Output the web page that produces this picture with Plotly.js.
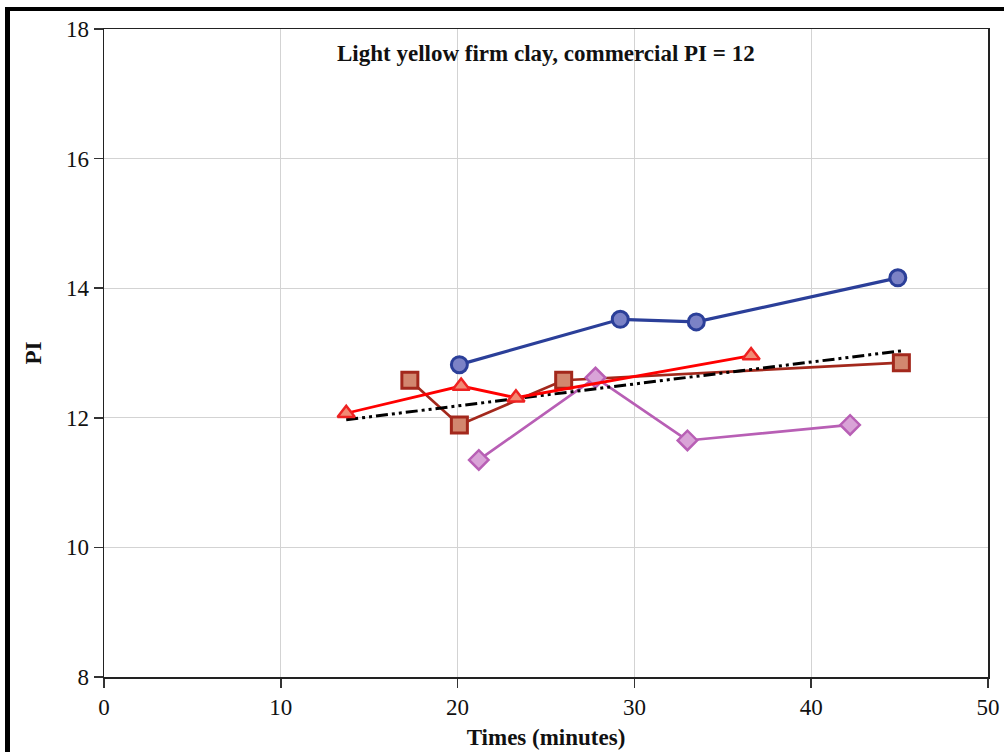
<!DOCTYPE html>
<html>
<head>
<meta charset="utf-8">
<script src="https://cdn.plot.ly/plotly-3.0.1.min.js"></script>
<style>
  html, body { margin: 0; padding: 0; background: #ffffff; }
  #wrap { position: relative; width: 1004px; height: 752px; overflow: hidden; }
  #chart { position: absolute; left: 0; top: 0; width: 1004px; height: 752px; }
  #frame { position: absolute; left: 5px; top: 7px; width: 1100px; height: 800px;
           border-left: 5px solid #000; border-top: 4px solid #000; pointer-events: none; }
</style>
</head>
<body>
<div id="wrap">
  <div id="chart"></div>
  <div id="frame"></div>
</div>
<script>
// Series
const blueX   = [20.1, 29.2, 33.5, 44.9];
const blueY   = [12.82, 13.52, 13.48, 14.16];

const redX    = [13.7, 20.2, 23.3, 36.6];
const redY    = [12.07, 12.49, 12.31, 12.96];

const brownX  = [17.3, 20.1, 26.0, 45.1];
const brownY  = [12.58, 11.89, 12.58, 12.85];

const purpleX = [21.2, 27.8, 33.0, 42.2];
const purpleY = [11.35, 12.62, 11.65, 11.89];

const trendX  = [13.7, 45.3];
const trendY  = [11.97, 13.04];

const xTicks  = [0, 10, 20, 30, 40, 50];
const yTicks  = [8, 10, 12, 14, 16, 18];

const titleText  = 'Light yellow firm clay, commercial PI = 12';
const xTitleText = 'Times (minutes)';
const yTitleText = 'PI';

const FONT = '"Liberation Serif", "DejaVu Serif", serif';
const FS = 23;

const traces = [
  {
    x: blueX, y: blueY, type: 'scatter', mode: 'lines+markers',
    line: { color: '#2B3F99', width: 3.2 },
    marker: { symbol: 'circle', size: 16, color: '#7B82C6', line: { color: '#2B3F99', width: 3 } }
  },
  {
    x: brownX, y: brownY, type: 'scatter', mode: 'lines+markers',
    line: { color: '#A3281C', width: 2.7 },
    marker: { symbol: 'square', size: 16, color: '#D2876F', line: { color: '#A3281C', width: 3 } }
  },
  {
    x: purpleX, y: purpleY, type: 'scatter', mode: 'lines+markers',
    line: { color: '#B85FB5', width: 2.7 },
    marker: { symbol: 'diamond', size: 15, color: '#D9A3D7', line: { color: '#B85FB5', width: 2.5 } }
  },
  {
    x: trendX, y: trendY, type: 'scatter', mode: 'lines',
    line: { color: '#000000', width: 3, dash: '12px,4px,3px,4px,3px,4px' }
  },
  {
    x: redX, y: redY, type: 'scatter', mode: 'lines+markers',
    line: { color: '#FF0000', width: 2.8 },
    marker: { symbol: 'triangle-up', size: 15, color: '#F28A74', line: { color: '#EE2222', width: 2.5 } }
  }
];

const axisCommon = {
  showline: true, linecolor: '#222222', linewidth: 1.5, mirror: true,
  ticks: 'outside', ticklen: 9, tickwidth: 1.5, tickcolor: '#333333',
  showgrid: true, gridcolor: '#D3D3D3', gridwidth: 1,
  zeroline: false,
  tickfont: { family: FONT, size: FS, color: '#111111' }
};

const layout = {
  width: 1004, height: 752,
  paper_bgcolor: '#ffffff', plot_bgcolor: '#ffffff',
  margin: { l: 104, r: 16, t: 29, b: 75, pad: 0 },
  showlegend: false,
  xaxis: Object.assign({}, axisCommon, {
    range: [0, 50], tickvals: xTicks, ticktext: xTicks.map(String),
    title: { text: '<b>' + xTitleText + '</b>', font: { family: FONT, size: FS, color: '#111111' }, standoff: 10 }
  }),
  yaxis: Object.assign({}, axisCommon, {
    range: [8, 18], tickvals: yTicks, ticktext: yTicks.map(String),
    title: { text: '<b>' + yTitleText + '</b>', font: { family: FONT, size: FS, color: '#111111' }, standoff: 18 }
  }),
  annotations: [{
    xref: 'paper', yref: 'paper', x: 0.5, y: 0.962, xanchor: 'center', yanchor: 'middle',
    showarrow: false, text: '<b>' + titleText + '</b>',
    font: { family: FONT, size: FS, color: '#111111' }
  }]
};

Plotly.newPlot('chart', traces, layout, { displayModeBar: false, staticPlot: true });
</script>
</body>
</html>
